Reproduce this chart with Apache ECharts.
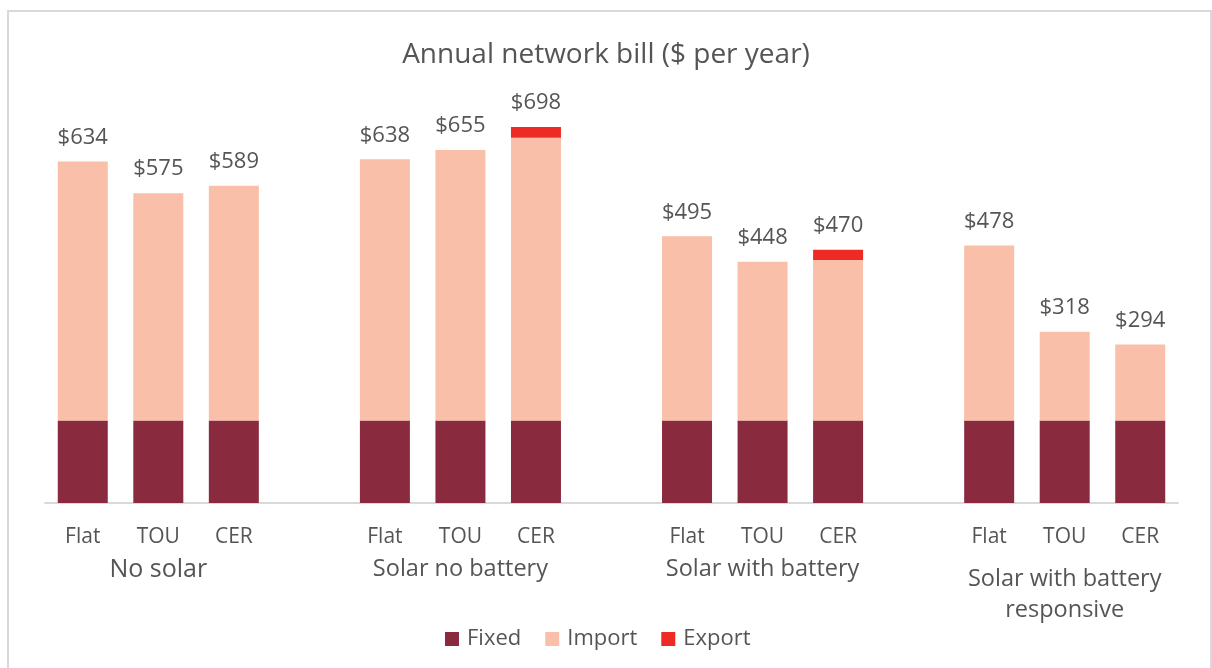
<!DOCTYPE html>
<html>
<head>
<meta charset="utf-8">
<title>Annual network bill</title>
<script src="https://cdn.jsdelivr.net/npm/echarts@6/dist/echarts.min.js"></script>
<style>
  html, body { margin: 0; padding: 0; background: #ffffff; }
  #chart { width: 1212px; height: 668px; }
</style>
</head>
<body>
<div id="chart"></div>
<script>
// Customer groups and the three tariff options shown for each
const groups = ['No solar', 'Solar no battery', 'Solar with battery', 'Solar with battery\nresponsive'];
const tariffs = ['Flat', 'TOU', 'CER'];

// Bill components ($ per year), four groups of Flat / TOU / CER
const fixedCharge = [153, 153, 153, 153, 153, 153, 153, 153, 153, 153, 153, 153];
const importCharge = [481, 422, 436, 485, 502, 525, 342, 295, 298, 325, 165, 141];
const exportCharge = [0, 0, 0, 0, 0, 20, 0, 0, 19, 0, 0, 0];

// Lay the bars out on one category axis with an empty slot between groups
const tariffSlots = [];
const groupSlots = [];
const slotIndex = []; // slot -> bar index (or -1 for a spacer)
groups.forEach((g, gi) => {
  if (gi > 0) { tariffSlots.push(''); groupSlots.push(''); slotIndex.push(-1); }
  tariffs.forEach((t, ti) => {
    tariffSlots.push(t);
    groupSlots.push(ti === 1 ? g : '');
    slotIndex.push(gi * tariffs.length + ti);
  });
});
const bySlot = arr => slotIndex.map(i => (i < 0 ? '-' : arr[i]));
const totalAt = i => fixedCharge[i] + importCharge[i] + exportCharge[i];

const FONT = '"Open Sans", "Noto Sans", sans-serif';
const TEXT = '#555555';

const chart = echarts.init(document.getElementById('chart'), null, { renderer: 'canvas' });
chart.setOption({
  backgroundColor: '#ffffff',
  animation: false,
  textStyle: { fontFamily: FONT },
  title: {
    text: 'Annual network bill ($ per year)',
    left: 'center',
    top: 36,
    textStyle: { fontFamily: FONT, fontSize: 28, fontWeight: 'normal', color: TEXT }
  },
  legend: {
    left: 440,
    top: 623,
    icon: 'rect',
    itemWidth: 14,
    itemHeight: 14,
    itemGap: 24,
    textStyle: { fontFamily: FONT, fontSize: 22, color: TEXT, padding: [0, 0, 0, 3] },
    data: ['Fixed', 'Import', 'Export']
  },
  grid: { left: 45, right: 34, top: 72, bottom: 165 },
  xAxis: [
    {
      type: 'category',
      data: tariffSlots,
      axisLine: { lineStyle: { color: '#d9d9d9', width: 2 } },
      axisTick: { show: false },
      axisLabel: { interval: 0, margin: 24, fontFamily: FONT, fontSize: 21, color: TEXT }
    },
    {
      type: 'category',
      data: groupSlots,
      position: 'bottom',
      axisLine: { show: false },
      axisTick: { show: false },
      axisLabel: {
        interval: 0,
        margin: 54,
        fontFamily: FONT,
        color: TEXT,
        formatter: (v, i) => {
          if (!v || v.indexOf('\n') >= 0) return '';
          return i === 1 ? '{lead|' + v + '}' : '{grp|' + v + '}';
        },
        rich: {
          lead: { fontFamily: FONT, fontSize: 25, color: TEXT },
          grp: { fontFamily: FONT, fontSize: 23.5, color: TEXT }
        }
      }
    },
    {
      type: 'category',
      data: groupSlots,
      position: 'bottom',
      axisLine: { show: false },
      axisTick: { show: false },
      axisLabel: {
        interval: 0,
        margin: 61,
        fontFamily: FONT,
        fontSize: 23.5,
        lineHeight: 31,
        color: TEXT,
        formatter: v => (v.indexOf('\n') >= 0 ? v : '')
      }
    }
  ],
  yAxis: {
    type: 'value',
    min: 0,
    max: 800,
    show: false,
    splitLine: { show: false }
  },
  series: [
    {
      name: 'Fixed',
      type: 'bar',
      stack: 'bill',
      xAxisIndex: 0,
      barWidth: 50,
      itemStyle: { color: '#8a2a3e' },
      data: bySlot(fixedCharge)
    },
    {
      name: 'Import',
      type: 'bar',
      stack: 'bill',
      xAxisIndex: 0,
      barWidth: 50,
      itemStyle: { color: '#fabfa8' },
      data: bySlot(importCharge)
    },
    {
      name: 'Export',
      type: 'bar',
      stack: 'bill',
      xAxisIndex: 0,
      barWidth: 50,
      itemStyle: { color: '#ee2a25' },
      label: {
        show: true,
        position: 'top',
        distance: 13,
        fontFamily: FONT,
        fontSize: 22,
        color: TEXT,
        formatter: p => {
          const i = slotIndex[p.dataIndex];
          return i < 0 ? '' : '$' + totalAt(i);
        }
      },
      data: bySlot(exportCharge)
    }
  ],
  graphic: [
    {
      type: 'rect',
      silent: true,
      shape: { x: 8, y: 11, width: 1203, height: 680 },
      style: { fill: 'none', stroke: '#d9d9d9', lineWidth: 2 }
    }
  ]
});
</script>
</body>
</html>
